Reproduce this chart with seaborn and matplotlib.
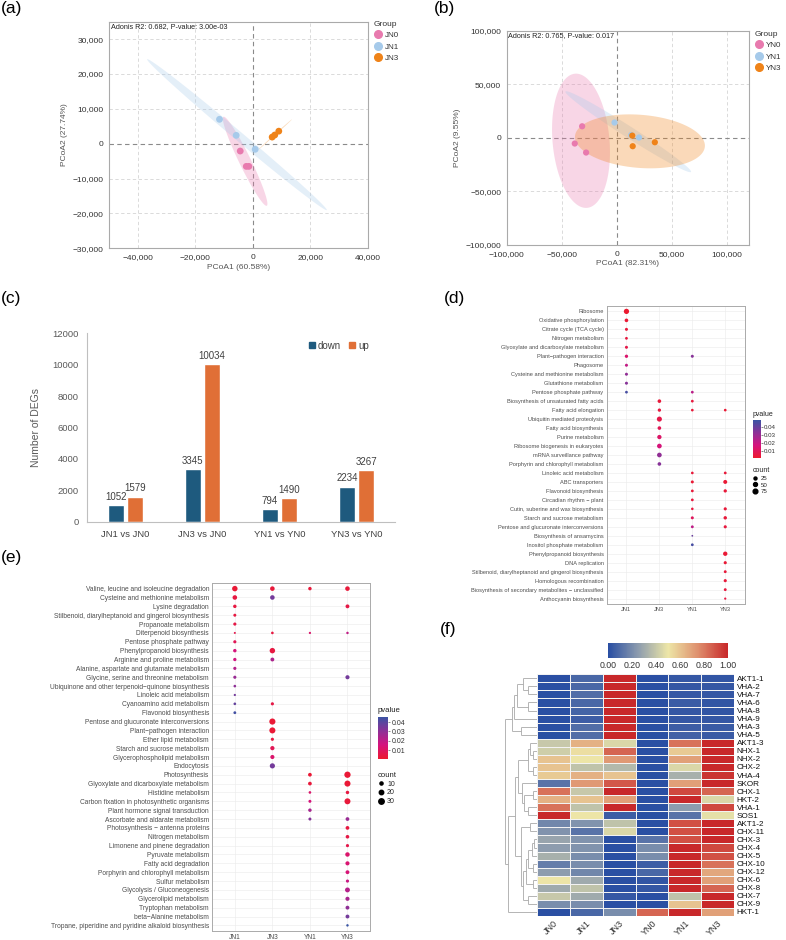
import numpy as np
import pandas as pd
import matplotlib
matplotlib.use('Agg')
import matplotlib.pyplot as plt
import seaborn as sns
from matplotlib.colors import LinearSegmentedColormap, Normalize
from matplotlib.lines import Line2D
from matplotlib.patches import Polygon
from matplotlib.cm import ScalarMappable
from matplotlib.ticker import FuncFormatter

sns.set_theme(style='white')
plt.rcParams['font.family'] = ['Liberation Sans', 'DejaVu Sans']

W, H = 786, 940

# ---------------- (a) PCoA JN ----------------
a_group = ['JN0', 'JN0', 'JN0', 'JN1', 'JN1', 'JN1', 'JN3', 'JN3', 'JN3']
a_pc1 = [-4400, -2300, -1400, -11600, -5800, 800, 6700, 7600, 9000]
a_pc2 = [-2100, -6500, -6500, 7000, 2400, -1600, 1900, 2500, 3600]
a_levels = ['JN0', 'JN1', 'JN3']
a_note = 'Adonis R2: 0.682, P-value: 3.00e-03'
a_xlab, a_ylab = 'PCoA1 (60.58%)', 'PCoA2 (27.74%)'

# ---------------- (b) PCoA YN ----------------
b_group = ['YN0', 'YN0', 'YN0', 'YN1', 'YN1', 'YN1', 'YN3', 'YN3', 'YN3']
b_pc1 = [-31500, -38200, -27900, -2100, 20100, 13000, 14000, 14400, 34500]
b_pc2 = [10800, -5300, -13700, 14300, 300, 2600, 2100, -7800, -4100]
b_levels = ['YN0', 'YN1', 'YN3']
b_note = 'Adonis R2: 0.765, P-value: 0.017'
b_xlab, b_ylab = 'PCoA1 (82.31%)', 'PCoA2 (9.55%)'

grp_colors = ['#E87AAE', '#A6CAEA', '#EF8319']

# ---------------- (c) DEG counts ----------------
c_comp = ['JN1 vs JN0', 'JN3 vs JN0', 'YN1 vs YN0', 'YN3 vs YN0']
c_down = [1052, 3345, 794, 2234]
c_up = [1579, 10034, 1490, 3267]

# ---------------- (d) KEGG dots ----------------
dot_groups = ['JN1', 'JN3', 'YN1', 'YN3']
d_hits = {
    "Ribosome": [("JN1", 95, 0.001)],
    "Oxidative phosphorylation": [("JN1", 40, 0.002)],
    "Citrate cycle (TCA cycle)": [("JN1", 25, 0.003)],
    "Nitrogen metabolism": [("JN1", 20, 0.004)],
    "Glyoxylate and dicarboxylate metabolism": [("JN1", 25, 0.006)],
    "Plant\u2212pathogen interaction": [("JN1", 32, 0.013), ("YN1", 25, 0.034)],
    "Phagosome": [("JN1", 25, 0.021)],
    "Cysteine and methionine metabolism": [("JN1", 25, 0.032)],
    "Glutathione metabolism": [("JN1", 25, 0.034)],
    "Pentose phosphate pathway": [("JN1", 20, 0.047), ("YN1", 20, 0.023)],
    "Biosynthesis of unsaturated fatty acids": [("JN3", 40, 0.003), ("YN1", 20, 0.004)],
    "Fatty acid elongation": [("JN3", 32, 0.004), ("YN1", 18, 0.003), ("YN3", 18, 0.002)],
    "Ubiquitin mediated proteolysis": [("JN3", 87, 0.006)],
    "Fatty acid biosynthesis": [("JN3", 40, 0.008)],
    "Purine metabolism": [("JN3", 60, 0.012)],
    "Ribosome biogenesis in eukaryotes": [("JN3", 73, 0.016)],
    "mRNA surveillance pathway": [("JN3", 73, 0.032)],
    "Porphyrin and chlorophyll metabolism": [("JN3", 40, 0.034)],
    "Linoleic acid metabolism": [("YN1", 18, 0.003), ("YN3", 20, 0.003)],
    "ABC transporters": [("YN1", 25, 0.002), ("YN3", 50, 0.002)],
    "Flavonoid biosynthesis": [("YN1", 20, 0.003), ("YN3", 32, 0.003)],
    "Circadian rhythm \u2212 plant": [("YN1", 20, 0.004)],
    "Cutin, suberine and wax biosynthesis": [("YN1", 16, 0.004), ("YN3", 28, 0.003)],
    "Starch and sucrose metabolism": [("YN1", 25, 0.01), ("YN3", 35, 0.003)],
    "Pentose and glucuronate interconversions": [("YN1", 22, 0.022), ("YN3", 28, 0.004)],
    "Biosynthesis of ansamycins": [("YN1", 3, 0.04)],
    "Inositol phosphate metabolism": [("YN1", 20, 0.047)],
    "Phenylpropanoid biosynthesis": [("YN3", 62, 0.002)],
    "DNA replication": [("YN3", 28, 0.002)],
    "Stilbenoid, diarylheptanoid and gingerol biosynthesis": [("YN3", 22, 0.003)],
    "Homologous recombination": [("YN3", 28, 0.003)],
    "Biosynthesis of secondary metabolites \u2212 unclassified": [("YN3", 22, 0.004)],
    "Anthocyanin biosynthesis": [("YN3", 10, 0.005)],
}

# ---------------- (e) KEGG dots ----------------
e_hits = {
    "Valine, leucine and isoleucine degradation": [("JN1", 30, 0.002), ("JN3", 21, 0.003), ("YN1", 12, 0.003), ("YN3", 21, 0.003)],
    "Cysteine and methionine metabolism": [("JN1", 21, 0.004), ("JN3", 21, 0.035)],
    "Lysine degradation": [("JN1", 12, 0.004), ("YN3", 15, 0.005)],
    "Stilbenoid, diarylheptanoid and gingerol biosynthesis": [("JN1", 9, 0.004)],
    "Propanoate metabolism": [("JN1", 10, 0.005)],
    "Diterpenoid biosynthesis": [("JN1", 4, 0.006), ("JN3", 7, 0.004), ("YN1", 5, 0.012), ("YN3", 6, 0.02)],
    "Pentose phosphate pathway": [("JN1", 10, 0.008)],
    "Phenylpropanoid biosynthesis": [("JN1", 12, 0.015), ("JN3", 30, 0.004)],
    "Arginine and proline metabolism": [("JN1", 11, 0.016), ("JN3", 15, 0.024)],
    "Alanine, aspartate and glutamate metabolism": [("JN1", 10, 0.022)],
    "Glycine, serine and threonine metabolism": [("JN1", 10, 0.028), ("YN3", 17, 0.035)],
    "Ubiquinone and other terpenoid\u2212quinone biosynthesis": [("JN1", 7, 0.03)],
    "Linoleic acid metabolism": [("JN1", 5, 0.035)],
    "Cyanoamino acid metabolism": [("JN1", 7, 0.038), ("JN3", 10, 0.005)],
    "Flavonoid biosynthesis": [("JN1", 8, 0.044)],
    "Pentose and glucuronate interconversions": [("JN3", 38, 0.002)],
    "Plant\u2212pathogen interaction": [("JN3", 37, 0.002)],
    "Ether lipid metabolism": [("JN3", 10, 0.004)],
    "Starch and sucrose metabolism": [("JN3", 18, 0.008)],
    "Glycerophospholipid metabolism": [("JN3", 17, 0.012)],
    "Endocytosis": [("JN3", 27, 0.035)],
    "Photosynthesis": [("YN1", 14, 0.002), ("YN3", 40, 0.002)],
    "Glyoxylate and dicarboxylate metabolism": [("YN1", 14, 0.003), ("YN3", 37, 0.002)],
    "Histidine metabolism": [("YN1", 7, 0.012), ("YN3", 12, 0.004)],
    "Carbon fixation in photosynthetic organisms": [("YN1", 9, 0.015), ("YN3", 36, 0.003)],
    "Plant hormone signal transduction": [("YN1", 12, 0.025)],
    "Ascorbate and aldarate metabolism": [("YN1", 9, 0.032), ("YN3", 14, 0.028)],
    "Photosynthesis \u2212 antenna proteins": [("YN3", 14, 0.004)],
    "Nitrogen metabolism": [("YN3", 13, 0.005)],
    "Limonene and pinene degradation": [("YN3", 10, 0.006)],
    "Pyruvate metabolism": [("YN3", 20, 0.012)],
    "Fatty acid degradation": [("YN3", 17, 0.013)],
    "Porphyrin and chlorophyll metabolism": [("YN3", 15, 0.014)],
    "Sulfur metabolism": [("YN3", 10, 0.018)],
    "Glycolysis / Gluconeogenesis": [("YN3", 24, 0.022)],
    "Glycerolipid metabolism": [("YN3", 17, 0.025)],
    "Tryptophan metabolism": [("YN3", 15, 0.03)],
    "beta\u2212Alanine metabolism": [("YN3", 15, 0.035)],
    "Tropane, piperidine and pyridine alkaloid biosynthesis": [("YN3", 6, 0.046)],
}

# ---------------- (f) heatmap ----------------
f_samples = ['JN0', 'JN1', 'JN3', 'YN0', 'YN1', 'YN3']
f_genes = ['AKT1-1', 'VHA-2', 'VHA-7', 'VHA-6', 'VHA-8', 'VHA-9', 'VHA-3', 'VHA-5',
           'AKT1-3', 'NHX-1', 'NHX-2', 'CHX-2', 'VHA-4', 'SKOR', 'CHX-1', 'HKT-2', 'VHA-1', 'SOS1',
           'AKT1-2', 'CHX-11', 'CHX-3', 'CHX-4', 'CHX-5', 'CHX-10', 'CHX-12', 'CHX-6', 'CHX-8',
           'CHX-7', 'CHX-9', 'HKT-1']
f_values = [
    [0.00, 0.08, 1.00, 0.00, 0.03, 0.02],
    [0.00, 0.08, 1.00, 0.00, 0.03, 0.03],
    [0.00, 0.10, 1.00, 0.00, 0.03, 0.03],
    [0.00, 0.08, 1.00, 0.00, 0.04, 0.02],
    [0.00, 0.07, 1.00, 0.00, 0.03, 0.02],
    [0.00, 0.05, 1.00, 0.00, 0.03, 0.03],
    [0.00, 0.10, 1.00, 0.00, 0.05, 0.04],
    [0.00, 0.10, 1.00, 0.00, 0.06, 0.04],
    [0.40, 0.65, 0.45, 0.00, 0.82, 1.00],
    [0.42, 0.52, 0.85, 0.00, 0.58, 1.00],
    [0.60, 0.50, 0.72, 0.00, 0.70, 1.00],
    [0.60, 0.38, 0.35, 0.00, 0.45, 1.00],
    [0.58, 0.65, 0.60, 0.00, 0.32, 0.97],
    [0.12, 0.72, 0.88, 0.00, 0.70, 1.00],
    [0.82, 0.40, 1.00, 0.00, 0.92, 0.85],
    [0.65, 0.60, 0.70, 0.00, 1.00, 0.45],
    [0.82, 0.38, 1.00, 0.00, 0.25, 0.92],
    [1.00, 0.50, 0.05, 0.00, 0.12, 0.48],
    [0.18, 0.22, 0.38, 0.00, 0.90, 1.00],
    [0.22, 0.12, 0.45, 0.00, 0.90, 1.00],
    [0.28, 0.22, 0.00, 0.12, 0.90, 1.00],
    [0.25, 0.22, 0.00, 0.20, 1.00, 0.92],
    [0.32, 0.20, 0.00, 0.20, 1.00, 0.90],
    [0.15, 0.20, 0.00, 0.05, 1.00, 0.82],
    [0.25, 0.18, 0.00, 0.08, 1.00, 0.68],
    [0.50, 0.30, 0.00, 0.02, 1.00, 0.70],
    [0.30, 0.38, 0.00, 0.03, 1.00, 0.85],
    [0.40, 0.30, 0.03, 0.00, 0.38, 1.00],
    [0.20, 0.20, 0.00, 0.00, 0.60, 1.00],
    [0.00, 0.08, 0.20, 0.85, 1.00, 0.70],
]
# row dendrogram: (merge height, left, right); leaves are row indices
f_tree = (97,
          (75, (69, (60, (44, 0, (27, 1, 2)), (27, 3, 4)), 5), (50, 6, 7)),
          (87, (67, (57, (29, (22, 8, (12, 9, 10)), (14, 11, 12)),
                         (47, 13, (40, (14, 14, 15), (28, 16, 17)))),
                    (50, (22, 18, 19),
                     (42, (34, (27, (17, (10, 20, 21), 22), (12, 23, 24)), (12, 25, 26)),
                      (27, 27, 28)))),
           29))

# F quantiles qf(0.95, 2, n-1) for ggplot-style t ellipses
F95 = {3: 19.0, 4: 9.552, 5: 6.944}


def rect(l, t, r, b):
    return [l / W, 1 - b / H, (r - l) / W, (b - t) / H]


def cov_trob(X, nu=5, maxit=25, tol=0.01):
    n, p = X.shape
    wt = np.ones(n)
    loc = X.mean(0)
    w = np.sqrt(wt)
    Xc = X - loc
    for _ in range(maxit):
        w0 = w
        Xc = X - loc
        A = np.sqrt(w / w.sum())[:, None] * Xc
        _, d, Vt = np.linalg.svd(A, full_matrices=False)
        wX = Xc @ Vt.T @ np.diag(1 / d)
        Q = (wX ** 2).sum(1)
        w = wt * (nu + p) / (nu + Q)
        loc = (w[:, None] * X).sum(0) / w.sum()
        if np.all(np.abs(w - w0) < tol):
            break
    sw = np.sqrt(w)[:, None] * Xc
    return loc, sw.T @ sw / wt.sum()


def t_ellipse(pts, seg=120):
    center, shape = cov_trob(pts)
    L = np.linalg.cholesky(shape)
    r = np.sqrt(2 * F95[len(pts)])
    ang = np.linspace(0, 2 * np.pi, seg + 1)
    circ = np.column_stack([np.cos(ang), np.sin(ang)])
    return center + r * (circ @ L.T)


fig = plt.figure(figsize=(W / 100, H / 100), dpi=100)
fig.patch.set_facecolor('white')


def fmt_thousands(v, _):
    return f'{v:,.0f}'.replace('-', '\u2212')


def pcoa(box, g, x, y, levels, xlim, ylim, xt, yt, xlab, ylab, note, leg_xy, ps):
    ax = fig.add_axes(rect(*box))
    df = pd.DataFrame({'group': g, 'pc1': x, 'pc2': y})
    for v in xt:
        if v != 0:
            ax.axvline(v, color='#D5D5D5', ls=(0, (4, 3)), lw=0.6, zorder=0)
    for v in yt:
        if v != 0:
            ax.axhline(v, color='#D5D5D5', ls=(0, (4, 3)), lw=0.6, zorder=0)
    ax.axvline(0, color='#8A8A8A', ls=(0, (4, 3)), lw=0.8, zorder=0.5)
    ax.axhline(0, color='#8A8A8A', ls=(0, (4, 3)), lw=0.8, zorder=0.5)
    for lv, col in zip(levels, grp_colors):
        pts = df.loc[df.group == lv, ['pc1', 'pc2']].to_numpy(float)
        ax.add_patch(Polygon(t_ellipse(pts), closed=True, fc=col, alpha=0.3, ec='none', zorder=1))
    sns.scatterplot(data=df, x='pc1', y='pc2', hue='group', hue_order=levels,
                    palette=grp_colors, s=ps, linewidth=0, ax=ax, legend=False, zorder=3)
    ax.set_xlim(*xlim)
    ax.set_ylim(*ylim)
    ax.set_xticks(xt)
    ax.set_yticks(yt)
    ax.xaxis.set_major_formatter(FuncFormatter(fmt_thousands))
    ax.yaxis.set_major_formatter(FuncFormatter(fmt_thousands))
    ax.tick_params(labelsize=6, colors='#333333', length=2.5, width=0.6, pad=1.5)
    ax.tick_params(axis='both', color='#888888')
    ax.set_xlabel(xlab, fontsize=6, color='#555555', labelpad=2)
    ax.set_ylabel(ylab, fontsize=6, color='#555555', labelpad=3)
    for sp in ax.spines.values():
        sp.set_color('#AAAAAA')
        sp.set_linewidth(0.8)
    ax.text(0.006, 0.992, note, transform=ax.transAxes, ha='left', va='top', fontsize=5.2, color='#222222')
    handles = [Line2D([], [], marker='o', ls='', color=c, markersize=5.5) for c in grp_colors]
    leg = ax.legend(handles, levels, title='Group', loc='upper left',
                    bbox_to_anchor=(leg_xy[0] / W, 1 - leg_xy[1] / H), bbox_transform=fig.transFigure,
                    frameon=False, fontsize=5.8, title_fontsize=6, handlelength=1.0, handletextpad=0.4,
                    labelspacing=0.45, borderpad=0, borderaxespad=0)
    leg._legend_box.align = 'left'
    for t in leg.get_texts():
        t.set_color('#333333')
    leg.get_title().set_color('#333333')
    return ax


pcoa((109, 21.7, 368, 248.3), a_group, a_pc1, a_pc2, a_levels, (-50000, 40000), (-30000, 35000),
     [-40000, -20000, 0, 20000, 40000], [-30000, -20000, -10000, 0, 10000, 20000, 30000],
     a_xlab, a_ylab, a_note, (374, 21), 24)
pcoa((506.7, 30.7, 749, 245), b_group, b_pc1, b_pc2, b_levels, (-100000, 120000), (-100000, 100000),
     [-100000, -50000, 0, 50000, 100000], [-100000, -50000, 0, 50000, 100000],
     b_xlab, b_ylab, b_note, (755, 31), 20)

# ---------------- (c) ----------------
axc = fig.add_axes(rect(87, 333.3, 395, 521.7))
cdf = pd.DataFrame({'comparison': c_comp * 2, 'type': ['down'] * 4 + ['up'] * 4, 'value': c_down + c_up})
sns.barplot(data=cdf, x='comparison', y='value', hue='type', order=c_comp, hue_order=['down', 'up'],
            palette={'down': '#1E5A7E', 'up': '#E06F36'}, width=0.5, gap=0.13, ax=axc,
            saturation=1, legend=False)
for cont in axc.containers:
    axc.bar_label(cont, fmt='%d', padding=2.5, fontsize=7, color='#404040')
axc.set_ylim(0, 12000)
axc.set_xlim(-0.5, 3.5)
axc.set_yticks(np.arange(0, 12001, 2000))
axc.tick_params(axis='y', labelsize=6.8, colors='#595959', length=0, pad=6)
axc.tick_params(axis='x', labelsize=6.8, colors='#404040', length=0, pad=6)
axc.set_xlabel('')
axc.set_ylabel('Number of DEGs', fontsize=7.5, color='#595959', labelpad=8)
for s in ['top', 'right']:
    axc.spines[s].set_visible(False)
for s in ['left', 'bottom']:
    axc.spines[s].set_color('#BFBFBF')
    axc.spines[s].set_linewidth(0.8)
ch = [Line2D([], [], marker='s', ls='', color=c, markersize=4.2) for c in ['#1E5A7E', '#E06F36']]
legc = axc.legend(ch, ['down', 'up'], loc='upper right', bbox_to_anchor=(0.915, 0.96), ncol=2,
                  frameon=False, fontsize=7, handlelength=0.6, handletextpad=0.3, columnspacing=0.9,
                  borderpad=0, borderaxespad=0)
for t in legc.get_texts():
    t.set_color('#404040')

# ---------------- dot plots ----------------
cmap_p = LinearSegmentedColormap.from_list('pv', ['#EC1A2E', '#D5137E', '#8C3097', '#3954A4'])


def dotplot(box, hits, vrange, crange, srange, fs, cbar_box, ptitle_y, count_y, cticks, lfs):
    ax = fig.add_axes(rect(*box))
    terms = list(hits.keys())
    recs = [(t, g, c, p) for t in terms for (g, c, p) in hits[t]]
    df = pd.DataFrame(recs, columns=['term', 'group', 'count', 'pvalue'])
    df['gx'] = pd.Categorical(df['group'], categories=dot_groups).codes
    df['ty'] = pd.Categorical(df['term'], categories=terms).codes
    ax.set_axisbelow(True)
    ax.grid(True, color='#EBEBEB', lw=0.4)
    sns.scatterplot(data=df, x='gx', y='ty', hue='pvalue', palette=cmap_p, hue_norm=vrange,
                    size='count', sizes=srange, size_norm=crange, linewidth=0, ax=ax, legend=False,
                    zorder=3)
    ax.set_xlim(-0.6, len(dot_groups) - 0.4)
    ax.set_ylim(len(terms) - 0.4, -0.6)
    ax.set_xticks(range(len(dot_groups)))
    ax.set_xticklabels(dot_groups)
    ax.set_yticks(range(len(terms)))
    ax.set_yticklabels(terms)
    ax.tick_params(labelsize=fs, colors='#4D4D4D', length=1.5, width=0.4, pad=0.8)
    ax.tick_params(axis='both', color='#555555')
    ax.set_xlabel('')
    ax.set_ylabel('')
    for sp in ax.spines.values():
        sp.set_color('#AAAAAA')
        sp.set_linewidth(0.7)
    # colour bar
    cax = fig.add_axes(rect(*cbar_box))
    sm = ScalarMappable(norm=Normalize(*vrange), cmap=cmap_p)
    cb = fig.colorbar(sm, cax=cax)
    cb.set_ticks([0.01, 0.02, 0.03, 0.04])
    cb.ax.tick_params(labelsize=lfs, colors='#333333', length=1.5, width=0.4, pad=1)
    cb.outline.set_visible(False)
    fig.text(cbar_box[0] / W, 1 - ptitle_y / H, 'pvalue', fontsize=lfs + 0.6, color='#222222',
             ha='left', va='bottom')
    smin, smax = srange
    cmin, cmax = crange
    handles = [Line2D([], [], marker='o', ls='', color='black',
                      markersize=np.sqrt(smin + (smax - smin) * (c - cmin) / (cmax - cmin)))
               for c in cticks]
    leg = ax.legend(handles, [str(c) for c in cticks], title='count', loc='upper left',
                    bbox_to_anchor=(cbar_box[0] / W, 1 - count_y / H), bbox_transform=fig.transFigure,
                    frameon=False, fontsize=lfs, title_fontsize=lfs + 0.6, handlelength=0.8,
                    handletextpad=0.5, labelspacing=0.25, borderpad=0, borderaxespad=0)
    leg._legend_box.align = 'left'
    return ax


dotplot((606.7, 306, 745, 604), d_hits, (0.0005, 0.0495), (2, 100), (1.5, 15.1), 4.1,
        (753, 420, 760.5, 458), 418, 467, [25, 50, 75], 4.4)
dotplot((212.3, 583.3, 370, 930.7), e_hits, (0.0004, 0.0457), (4, 40), (2.1, 20.6), 4.8,
        (378, 716.7, 388, 759), 714, 772, [10, 20, 30], 5.0)

# ---------------- (f) heatmap ----------------
cmap_h = LinearSegmentedColormap.from_list('hm', ['#2A4FA3', '#8D9CAE', '#EDE6A7', '#DE8F6D', '#C8282A'])
hdf = pd.DataFrame(f_values, index=f_genes, columns=f_samples)
hax = fig.add_axes(rect(537.3, 674.3, 734, 916))
hcax = fig.add_axes(rect(608.3, 643.3, 728, 658.3))
sns.heatmap(hdf, ax=hax, cmap=cmap_h, vmin=0, vmax=1, linewidths=0.7, linecolor='#F2F2F2',
            cbar_ax=hcax, cbar_kws={'orientation': 'horizontal', 'ticks': [0, 0.2, 0.4, 0.6, 0.8, 1.0]})
hax.yaxis.tick_right()
hax.set_yticks(np.arange(len(f_genes)) + 0.5)
hax.set_yticklabels(f_genes, rotation=0, fontsize=5.9, color='#111111')
hax.set_xticklabels(f_samples, rotation=45, ha='right', rotation_mode='anchor', fontsize=6.5,
                    color='#333333')
hax.tick_params(length=0, pad=2)
hax.set_xlabel('')
hax.set_ylabel('')
hcax.xaxis.set_major_formatter(FuncFormatter(lambda v, _: f'{v:.2f}'))
hcax.tick_params(labelsize=6.3, colors='#333333', length=0, pad=2)

dax = fig.add_axes(rect(504, 674.3, 537.3, 916))


def draw_tree(node):
    if isinstance(node, int):
        return node + 0.5, 0.0
    h, l, r = node
    yl, hl = draw_tree(l)
    yr, hr = draw_tree(r)
    kw = dict(color='#A8A8A8', lw=0.6, solid_capstyle='butt')
    dax.plot([hl, h], [yl, yl], **kw)
    dax.plot([hr, h], [yr, yr], **kw)
    dax.plot([h, h], [yl, yr], **kw)
    return (yl + yr) / 2, h


draw_tree(f_tree)
dax.set_xlim(100, 0)
dax.set_ylim(len(f_genes), 0)
dax.axis('off')

# ---------------- panel letters ----------------
for lab, x, y in [('(a)', 1, 1), ('(b)', 434, 1), ('(c)', 1, 291), ('(d)', 444, 291),
                  ('(e)', 1, 550), ('(f)', 440, 622)]:
    fig.text(x / W, 1 - y / H, lab, fontsize=12.5, ha='left', va='top', color='black')

fig.savefig('out.png', dpi=100, facecolor='white')
